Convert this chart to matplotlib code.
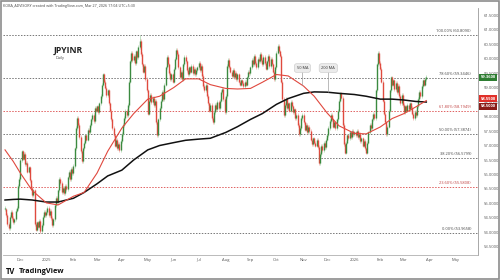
import numpy as np
import pandas as pd
import matplotlib
matplotlib.use('Agg')
import matplotlib.pyplot as plt
from matplotlib.patches import Rectangle
import matplotlib.transforms as mtransforms

plt.rcParams['font.family'] = ['Open Sans', 'DejaVu Sans']

symbol = 'JPYINR'
interval = 'Daily'
header = 'KOBA_ADVISORY created with TradingView.com, Mar 27, 2026 17:04 UTC+5:30'
first_day = '2024-11-13'
axis_end = '2026-05-29'

# daily closes, one line per month
closes = [
    54.80, 54.60, 54.30, 54.15, 54.55, 54.70, 54.50, 54.35, 54.45, 54.75, 54.85, 55.60, 55.85,  # Nov 24
    56.50, 56.80, 56.55, 56.70, 56.35, 56.40, 56.10, 56.25, 55.80, 55.55, 55.30, 55.45,
    54.30, 54.10, 54.35, 54.20, 54.40, 54.05, 54.25, 54.55, 54.70, 54.60,  # Dec 24
    54.70, 54.85, 54.60, 54.75, 54.50, 54.25, 54.45, 54.95, 55.20, 55.05, 55.45, 55.85,
    55.70, 55.40, 55.55, 55.35, 55.60, 55.50, 55.90, 56.10, 55.85, 56.20, 56.05,  # Jan 25
    56.30, 56.90, 57.60, 57.95, 57.70, 57.30, 56.80, 56.45, 56.90, 57.10, 57.35, 57.20,
    57.55, 57.45, 57.70, 57.90, 58.05, 57.85, 58.30, 58.20,  # Feb 25
    58.35, 58.15, 58.45, 58.70, 59.10, 59.45, 59.20, 59.00, 58.75, 58.90, 58.45, 58.20,
    57.90, 57.60, 57.35, 57.00, 57.20, 56.90, 57.05, 56.85, 57.15,  # Mar 25
    57.40, 57.70, 57.95, 58.20, 58.05, 58.40, 59.20, 59.90, 60.20, 59.95, 60.10, 59.85,
    60.25, 60.05, 60.40, 60.60, 60.15, 59.80, 59.55, 59.75, 59.30, 58.90,  # Apr 25
    58.10, 58.55, 58.75, 58.50, 58.65, 58.40, 58.55, 57.80, 57.35, 57.90, 58.30, 58.55,
    58.85, 58.60, 59.10, 59.70, 60.05, 59.80, 59.50, 59.30, 59.45, 59.20,  # May 25
    59.65, 60.00, 60.30, 60.15, 59.70, 59.35, 59.55, 59.30, 59.80, 60.05, 59.90, 59.60,
    59.45, 59.70, 59.55, 59.75, 59.50, 59.65, 59.45, 59.60, 59.70,  # Jun 25
    59.85, 59.60, 59.75, 59.40, 59.05, 58.90, 59.10, 58.70, 58.45, 58.20, 58.40, 57.95,
    57.80, 58.15, 58.40, 58.25, 58.50, 58.30, 58.55, 58.85, 58.95, 58.60, 58.15,  # Jul 25
    58.70, 59.75, 59.95, 59.70, 59.55, 59.40, 59.60, 59.35, 59.50, 59.30, 59.45, 59.20,
    59.10, 59.25, 59.15, 59.05, 59.20, 59.10, 59.35, 59.55, 59.50,  # Aug 25
    59.70, 59.95, 59.80, 60.10, 59.85, 59.70, 60.00, 59.90, 60.15, 59.95, 59.80, 60.05,
    59.85, 59.65, 59.90, 60.10, 59.75, 60.00, 59.80, 59.55, 59.30, 59.70,  # Sep 25
    60.20, 60.45, 60.25, 60.10, 59.20, 58.60, 58.05, 58.40, 58.60, 58.30, 58.45, 58.20,
    58.50, 58.35, 58.15, 58.25, 57.95, 58.05, 57.70, 57.40, 57.60, 57.95, 58.05,  # Oct 25
    57.80, 57.55, 57.70, 57.45, 57.65, 57.50, 57.20, 57.05, 57.25, 57.10, 57.00, 57.20,
    56.95, 56.40, 56.70, 57.00, 56.85, 57.10, 56.95, 57.20,  # Nov 25
    57.35, 57.60, 57.85, 58.05, 57.90, 57.65, 57.80, 57.60, 57.90, 58.20, 58.55, 58.80,
    58.65, 57.70, 57.05, 56.75, 57.10, 57.35, 57.25, 57.45, 57.30, 57.50, 57.40,  # Dec 25
    57.45, 57.35, 57.50, 57.30, 57.40, 57.15, 57.25, 57.00, 57.15, 56.90, 56.75, 57.10,
    57.45, 57.70, 57.60, 57.90, 58.10, 57.95, 58.90, 59.80, 60.20, 59.85,  # Jan 26
    59.65, 59.20, 58.55, 58.10, 57.80, 57.40, 57.65, 58.20, 58.90, 59.35, 59.10, 59.25,
    58.95, 59.15, 58.85, 59.05, 58.70, 58.45, 58.75, 58.40,  # Feb 26
    58.15, 58.35, 58.20, 58.40, 58.25, 58.45, 58.30, 58.10, 57.95, 58.15, 58.05, 58.35,
    58.60, 58.85, 58.70, 59.05, 59.25, 59.10, 59.30, 59.36,  # Mar 26
]

# moving averages read at month starts / mid months
ma_dates = ['2024-11-13', '2024-11-22', '2024-12-02', '2024-12-16', '2025-01-01', '2025-01-15',
            '2025-02-03', '2025-02-14', '2025-03-03', '2025-03-14', '2025-04-01', '2025-04-15',
            '2025-05-01', '2025-05-15', '2025-06-02', '2025-06-16', '2025-07-01', '2025-07-15',
            '2025-08-01', '2025-08-15', '2025-09-01', '2025-09-15', '2025-10-01', '2025-10-15',
            '2025-11-03', '2025-11-14', '2025-12-01', '2025-12-15', '2026-01-01', '2026-01-15',
            '2026-02-02', '2026-02-16', '2026-03-02', '2026-03-16', '2026-03-27']
ma50 = [56.85, 56.45, 56.05, 55.45, 55.02, 54.95, 55.25, 55.38, 56.05, 56.80, 57.60, 58.10,
        58.60, 58.70, 59.00, 59.30, 59.30, 59.10, 58.97, 58.95, 58.97, 59.18, 59.45, 59.40,
        59.05, 58.70, 58.12, 57.68, 57.42, 57.40, 57.64, 57.93, 58.10, 58.33, 58.55]
ma200 = [55.12, 55.14, 55.15, 55.12, 55.05, 55.05, 55.18, 55.38, 55.68, 55.95, 56.15, 56.50,
         56.85, 57.00, 57.10, 57.18, 57.22, 57.25, 57.45, 57.65, 57.90, 58.10, 58.42, 58.62,
         58.80, 58.85, 58.84, 58.80, 58.76, 58.70, 58.60, 58.60, 58.57, 58.52, 58.50]

fib_low = 53.9658
fib_high = 60.8090
fib_ratios = [0.0, 0.236, 0.382, 0.5, 0.618, 0.786, 1.0]
fib_red = [0.236, 0.618]

callouts = [('50 MA', '2025-10-31', 'ma50'), ('200 MA', '2025-12-02', 'ma200')]

# bar index axis (business days, like TradingView)
days = pd.bdate_range(first_day, axis_end)
closes = np.array(closes)
n = len(closes)
idx = np.arange(n)
opens = np.r_[closes[0], closes[:-1]]
highs = np.maximum(opens, closes)
lows = np.minimum(opens, closes)
highs[np.argmax(closes)] = fib_high
lows[np.argmin(closes)] = fib_low

ma_idx = days.get_indexer(pd.to_datetime(ma_dates))

up_col = '#3b8a40'
dn_col = '#df4a3e'

fig = plt.figure(figsize=(5, 2.8), dpi=100)
ax = fig.add_axes([0.006, 0.089, 0.95, 0.882])

# fib retracement levels
trans = mtransforms.blended_transform_factory(ax.transAxes, ax.transData)
for r in fib_ratios:
    lvl = fib_low + r * (fib_high - fib_low)
    col = '#e06060' if r in fib_red else '#777777'
    ax.axhline(lvl, color=col, lw=0.7, ls=(0, (1.5, 1.5)), zorder=1)
    ax.text(0.985, lvl + 0.07, f'{r * 100:.2f}% ({lvl:.4f})', transform=trans,
            ha='right', va='bottom', fontsize=2.9, color='#c04040' if r in fib_red else '#444444')

# candles
cols = np.where(closes >= opens, up_col, dn_col)
wick_cols = np.where(closes >= opens, '#a9d3aa', '#f0a8a2')
ax.vlines(idx, lows, highs, colors=wick_cols, lw=0.5, zorder=2)
body_lo = np.minimum(opens, closes)
body_hi = np.maximum(np.maximum(opens, closes), body_lo + 0.05)
ax.vlines(idx, body_lo - 0.06, body_hi + 0.06, colors=wick_cols, lw=0.5, zorder=2)
ax.vlines(idx, body_lo, body_hi, colors=cols, lw=1.0, zorder=3)

# moving averages
ax.plot(ma_idx, ma200, color='#111111', lw=1.1, zorder=4)
ax.plot(ma_idx, ma50, color='#e0483e', lw=0.8, zorder=4)

for name, d, which in callouts:
    i = days.get_indexer(pd.to_datetime([d]))[0]
    vals = ma50 if which == 'ma50' else ma200
    v = np.interp(i, ma_idx, vals)
    dy = 11 if which == 'ma50' else 16
    ax.annotate(name, xy=(i, v), xytext=(0, dy), textcoords='offset points',
                ha='center', va='bottom', fontsize=2.8, color='#333333',
                bbox=dict(boxstyle='round,pad=0.6', fc='#ebebeb', ec='#c8c8c8', lw=0.4),
                arrowprops=dict(arrowstyle='-', color='#a0a0a0', lw=0.5, shrinkA=0, shrinkB=0),
                zorder=6)

ax.set_xlim(-1.7, 400.8)
ax.set_ylim(53.22, 61.74)

# month ticks
month_start = np.r_[True, days.month[1:] != days.month[:-1]]
tick_pos = np.where(month_start)[0][1:]
tick_lab = [str(days[p].year) if days[p].month == 1 else days[p].strftime('%b') for p in tick_pos]
ax.set_xticks(tick_pos)
ax.set_xticklabels(tick_lab)
ax.tick_params(axis='x', length=0, labelsize=3.0, colors='#555555', pad=2)

yt = np.arange(53.5, 61.51, 0.5)
ax.yaxis.tick_right()
ax.set_yticks(yt)
ax.set_yticklabels([f'{v:.4f}' for v in yt])
ax.tick_params(axis='y', length=0, labelsize=3.0, colors='#555555', pad=4)

for s in ['top', 'left']:
    ax.spines[s].set_visible(False)
ax.spines['right'].set_color('#9a9a9a')
ax.spines['bottom'].set_color('#b0b0b0')
ax.spines['right'].set_linewidth(0.6)
ax.spines['bottom'].set_linewidth(0.6)

# price / MA labels on the scale
ax.text(1.006, closes[-1], f'{closes[-1]:.4f}', transform=trans, ha='left', va='center',
        fontsize=3.0, color='white', fontweight='bold',
        bbox=dict(boxstyle='square,pad=0.35', fc='#2e7d32', ec='none'), zorder=7, clip_on=False)
ax.text(1.006, ma50[-1] + 0.06, f'{ma50[-1]:.4f}', transform=trans, ha='left', va='center',
        fontsize=3.0, color='white', fontweight='bold',
        bbox=dict(boxstyle='square,pad=0.35', fc='#e0302a', ec='none'), zorder=7, clip_on=False)
ax.text(1.006, ma200[-1] - 0.15, f'{ma200[-1]:.4f}', transform=trans, ha='left', va='center',
        fontsize=3.0, color='white', fontweight='bold',
        bbox=dict(boxstyle='square,pad=0.35', fc='#8a1d18', ec='none'), zorder=7, clip_on=False)

fig.text(0.006, 0.985, header, fontsize=2.6, color='#444444', va='top')
fig.text(0.108, 0.82, symbol, fontsize=6.2, fontweight='bold', color='#222222', va='center')
fig.text(0.111, 0.792, interval, fontsize=2.8, color='#444444', va='center')
fig.text(0.012, 0.032, 'TV', fontsize=5.5, fontweight='bold', color='#111111', va='center')
fig.text(0.038, 0.032, 'TradingView', fontsize=5.3, fontweight='bold', color='#111111', va='center')

fig.add_artist(Rectangle((0.0015, 0.003), 0.997, 0.994, transform=fig.transFigure,
                         fill=False, ec='#8c8c8c', lw=1.2))

fig.savefig('out.png', dpi=100, facecolor='white')
